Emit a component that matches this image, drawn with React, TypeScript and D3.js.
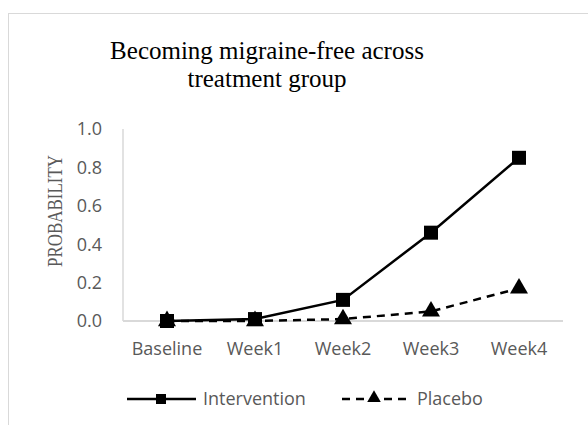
import React from "react";
import * as d3 from "d3";

const categories = ["Baseline", "Week1", "Week2", "Week3", "Week4"];
const intervention = [0, 0.01, 0.11, 0.46, 0.85];
const placebo = [0, 0, 0.01, 0.05, 0.17];
const yTicks = [0, 0.2, 0.4, 0.6, 0.8, 1.0];

const W = 588, H = 425;
const left = 123, right = 563, top = 129, bottom = 321;
const axisFont = "'Open Sans', 'Liberation Sans', sans-serif";
const serif = "'Liberation Serif', 'Times New Roman', serif";
const fs = 18;

const App = () => {
    const x = d3.scaleBand<string>().domain(categories).range([left, right]);
    const y = d3.scaleLinear().domain([0, 1]).range([bottom, top]);
    const cx = (c: string) => (x(c) as number) + x.bandwidth() / 2;

    const line = d3.line<number>()
        .x((d, i) => cx(categories[i]))
        .y(d => y(d));

    const tri = d3.symbol().type(d3.symbolTriangle).size(140);

    return (
        <svg width={W} height={H} style={{ position: "absolute", left: 0, top: 0 }}>
            <rect x={0} y={0} width={W} height={H} fill="#fff" />
            <rect x={8.5} y={13.5} width={W} height={H} fill="#fff" stroke="#d9d9d9" strokeWidth={1} />

            <text x={267} y={59} textAnchor="middle" fontFamily={serif} fontSize={25} fill="#000">
                Becoming migraine-free across
            </text>
            <text x={267} y={87} textAnchor="middle" fontFamily={serif} fontSize={25} fill="#000">
                treatment group
            </text>

            {/* axes */}
            <line x1={left} x2={left} y1={top} y2={bottom} stroke="#d9d9d9" strokeWidth={1.5} />
            <line x1={left} x2={right} y1={bottom} y2={bottom} stroke="#d9d9d9" strokeWidth={2} />

            {yTicks.map(t => (
                <text key={t} x={102} y={y(t)} dy="0.35em" textAnchor="end"
                      fontFamily={axisFont} fontSize={fs} fill="#595959">
                    {t.toFixed(1)}
                </text>
            ))}
            {categories.map(c => (
                <text key={c} x={cx(c)} y={349} dy="0.35em" textAnchor="middle"
                      fontFamily={axisFont} fontSize={fs} fill="#595959">
                    {c}
                </text>
            ))}
            <text transform="translate(62, 211) rotate(-90)" textAnchor="middle"
                  fontFamily={serif} fontSize={22} fill="#595959" textLength={112} lengthAdjust="spacingAndGlyphs">
                PROBABILITY
            </text>

            {/* series */}
            <path d={line(placebo) as string} fill="none" stroke="#000" strokeWidth={2.5} strokeDasharray="8,6" />
            {placebo.map((v, i) => (
                <path key={i} d={tri() as string} transform={`translate(${cx(categories[i])}, ${y(v)})`} fill="#000" />
            ))}
            <path d={line(intervention) as string} fill="none" stroke="#000" strokeWidth={2.5} />
            {intervention.map((v, i) => (
                <rect key={i} x={cx(categories[i]) - 7} y={y(v) - 7} width={14} height={14} fill="#000" />
            ))}

            {/* legend */}
            <line x1={127} x2={196} y1={399} y2={399} stroke="#000" strokeWidth={2.5} />
            <rect x={156} y={394} width={10} height={10} fill="#000" />
            <text x={203} y={399} dy="0.35em" fontFamily={axisFont} fontSize={fs} fill="#595959">Intervention</text>
            <line x1={342} x2={407} y1={399} y2={399} stroke="#000" strokeWidth={2.5} strokeDasharray="8,6" />
            <path d={d3.symbol().type(d3.symbolTriangle).size(80)() as string} transform="translate(374, 398)" fill="#000" />
            <text x={417} y={399} dy="0.35em" fontFamily={axisFont} fontSize={fs} fill="#595959">Placebo</text>
        </svg>
    );
};

export default App;
